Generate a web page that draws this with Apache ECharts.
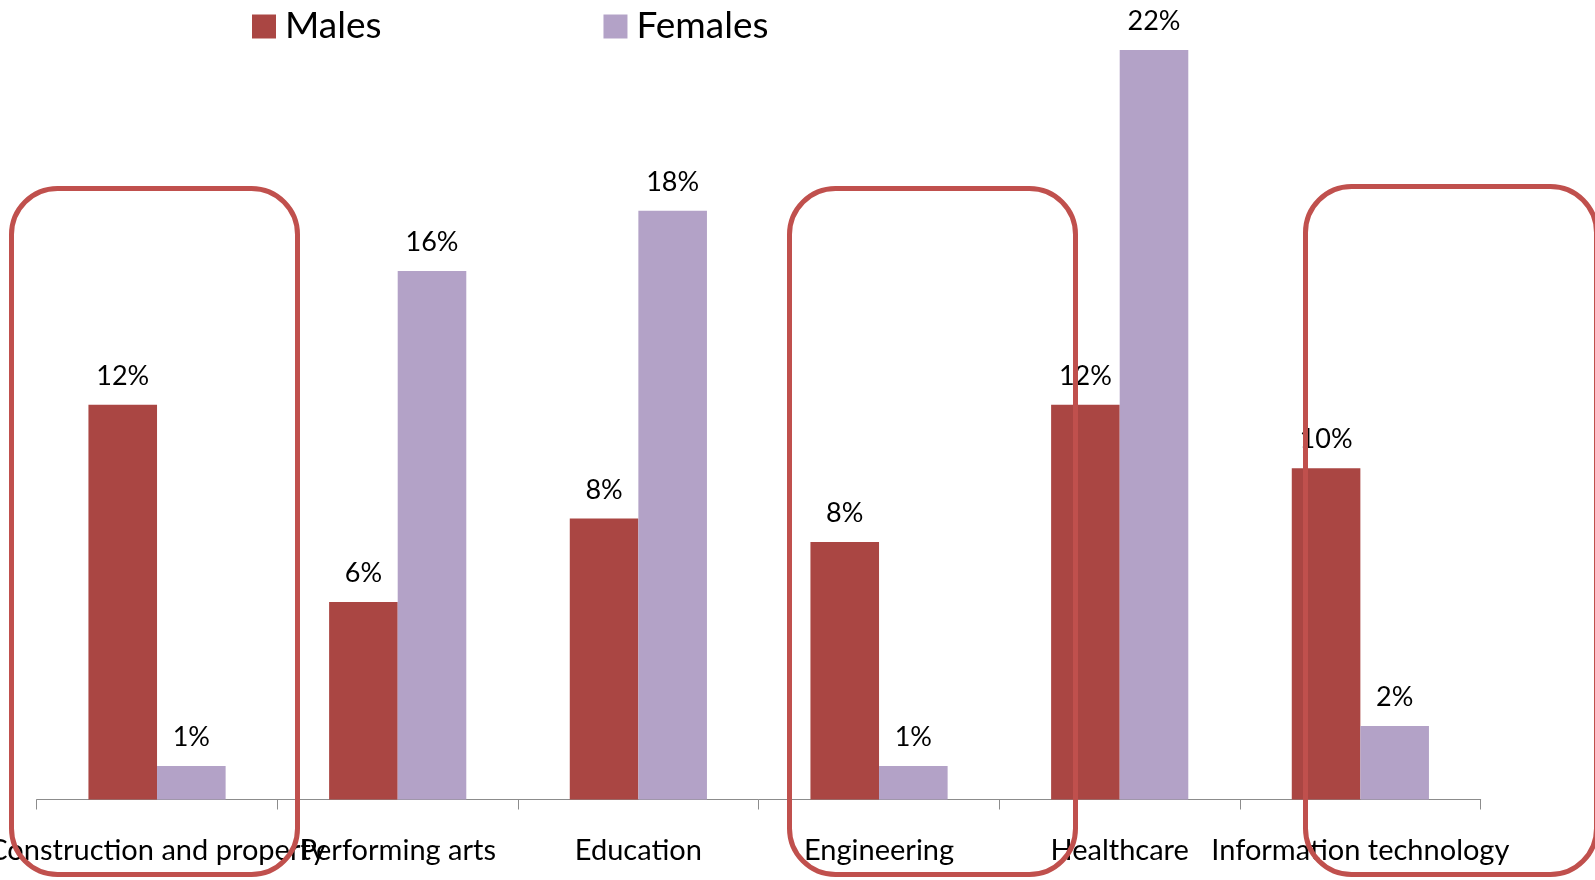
<!DOCTYPE html>
<html>
<head>
<meta charset="utf-8">
<title>Males vs Females by sector</title>
<script src="https://cdn.jsdelivr.net/npm/echarts@6/dist/echarts.min.js"></script>
<style>
  html, body { margin: 0; padding: 0; background: #fff; }
  #chart { width: 1595px; height: 880px; }
</style>
</head>
<body>
<div id="chart"></div>
<script>
// data (percent)
const categories = ['Construction and property', 'Performing arts', 'Education', 'Engineering', 'Healthcare', 'Information technology'];
const malesData = [11.8, 5.9, 8.4, 7.7, 11.8, 9.9];
const femalesData = [1.0, 15.8, 17.6, 1.0, 22.4, 2.2];
const seriesNames = ['Males', 'Females'];

// red rounded boxes drawn over the chart (x, y, width, height of the outer edge)
const boxes = [
  [9, 186, 291, 691],
  [787, 186, 291, 691],
  [1303, 184, 296, 693]
];

const font = 'Lato, "Open Sans", sans-serif';

const chart = echarts.init(document.getElementById('chart'));

const option = {
  animation: false,
  color: ['#aa4643', '#b3a2c7'],
  legend: {
    data: seriesNames,
    left: 247,
    top: 3,
    icon: 'rect',
    itemWidth: 24,
    itemHeight: 24,
    itemGap: 222,
    textStyle: {
      fontFamily: font,
      fontSize: 37,
      lineHeight: 37,
      color: '#000',
      padding: [0, 0, 0, 4]
    }
  },
  grid: {
    left: 36.7,
    right: 114.3,
    top: 30,
    bottom: 80.5,
    outerBoundsMode: 'none',
    containLabel: false
  },
  xAxis: {
    type: 'category',
    data: categories,
    axisLine: { lineStyle: { color: '#8c8c8c', width: 1 } },
    axisTick: { show: true, length: 10, lineStyle: { color: '#8c8c8c' } },
    axisLabel: {
      interval: 0,
      hideOverlap: false,
      margin: 37,
      color: '#000',
      fontFamily: font,
      fontSize: 29
    }
  },
  yAxis: {
    type: 'value',
    min: 0,
    max: 23,
    show: false,
    splitLine: { show: false }
  },
  series: [
    {
      name: seriesNames[0],
      type: 'bar',
      data: malesData,
      barGap: '0%',
      barCategoryGap: '43%',
      label: {
        show: true,
        position: 'top',
        distance: 15,
        color: '#000',
        fontFamily: font,
        fontSize: 27,
        formatter: p => Math.round(p.value) + '%'
      }
    },
    {
      name: seriesNames[1],
      type: 'bar',
      data: femalesData,
      barGap: '0%',
      barCategoryGap: '43%',
      label: {
        show: true,
        position: 'top',
        distance: 15,
        color: '#000',
        fontFamily: font,
        fontSize: 27,
        formatter: p => Math.round(p.value) + '%'
      }
    }
  ],
  graphic: boxes.map(b => ({
    type: 'rect',
    z: 100,
    silent: true,
    shape: { x: b[0] + 2.5, y: b[1] + 2.5, width: b[2] - 5, height: b[3] - 5, r: 46 },
    style: { fill: 'none', stroke: '#c0504d', lineWidth: 5 }
  }))
};

chart.setOption(option);
</script>
</body>
</html>
